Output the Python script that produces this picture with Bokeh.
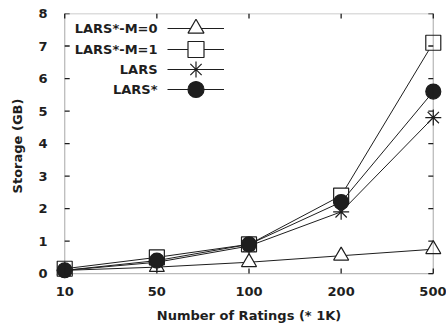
from bokeh.plotting import figure
from bokeh.models import (Range1d, FixedTicker, Legend, LegendItem, Label, BoxAnnotation)
from bokeh.core.properties import value
from bokeh.embed import file_html
from bokeh.resources import INLINE

categories = ["10", "50", "100", "200", "500"]
lars_m0 = [0.1, 0.2, 0.35, 0.55, 0.75]
lars_m1 = [0.15, 0.5, 0.9, 2.4, 7.1]
lars = [0.1, 0.35, 0.85, 1.9, 4.8]
lars_star = [0.1, 0.4, 0.9, 2.2, 5.6]
y_ticks = [0, 1, 2, 3, 4, 5, 6, 7, 8]

xs = list(range(len(categories)))
x_lo, x_hi = xs[0], xs[-1]
y_lo, y_hi = y_ticks[0], y_ticks[-1]
FONT = "DejaVu Sans"
INK = "#1e1e1e"
FS = "13px"

PADX = 0.1   # room so edge markers are not clipped
PADY = 0.15

p = figure(width=446, height=325, output_backend="svg", toolbar_location=None,
           x_range=Range1d(x_lo - PADX, x_hi + PADX), y_range=Range1d(y_lo - PADY, y_hi),
           min_border_left=55, min_border_right=4, min_border_top=13, min_border_bottom=47)
p.grid.visible = False
p.outline_line_color = None
p.background_fill_color = "white"

series = [
    ("LARS*-M=0", lars_m0, "triangle", "white", 15),
    ("LARS*-M=1", lars_m1, "square", "white", 15),
    ("LARS", lars, "asterisk", INK, 16),
    ("LARS*", lars_star, "circle", INK, 15),
]

renderers = []
for name, vals, marker, fill, size in series:
    ln = p.line(xs, vals, line_color=INK, line_width=1)
    sc = p.scatter(xs, vals, marker=marker, size=size, line_color=INK,
                   fill_color=fill, line_width=1.2)
    renderers.append((name, ln, sc))

# frame box at the data limits
p.add_layout(BoxAnnotation(left=x_lo, right=x_hi, bottom=y_lo, top=y_hi,
                           fill_alpha=0, line_color=INK, line_width=1.3, level="overlay"))

# inward ticks on all four sides
TX = 0.054
TY = 0.154
n = len(xs)
m = len(y_ticks)
p.segment(x0=xs, y0=[y_lo] * n, x1=xs, y1=[y_lo + TY] * n, line_color=INK, line_width=1.3)
p.segment(x0=xs, y0=[y_hi] * n, x1=xs, y1=[y_hi - TY] * n, line_color=INK, line_width=1.3)
p.segment(x0=[x_lo] * m, y0=y_ticks, x1=[x_lo + TX] * m, y1=y_ticks, line_color=INK, line_width=1.3)
p.segment(x0=[x_hi] * m, y0=y_ticks, x1=[x_hi - TX] * m, y1=y_ticks, line_color=INK, line_width=1.3)

def style_axis(ax):
    ax.axis_line_color = None
    ax.major_tick_line_color = None
    ax.minor_tick_line_color = None
    ax.major_label_text_font = FONT
    ax.major_label_text_font_style = "bold"
    ax.major_label_text_font_size = FS
    ax.major_label_text_color = INK
    ax.axis_label_text_font = FONT
    ax.axis_label_text_font_style = "bold"
    ax.axis_label_text_font_size = FS
    ax.axis_label_text_color = INK

xa = p.xaxis[0]
xa.ticker = FixedTicker(ticks=xs)
xa.major_label_overrides = {i: c for i, c in enumerate(categories)}
xa.axis_label = "Number of Ratings (* 1K)"
xa.major_label_standoff = 2
xa.axis_label_standoff = 9
style_axis(xa)

ya = p.yaxis[0]
ya.ticker = FixedTicker(ticks=y_ticks)
ya.axis_label = "Storage (GB)"
ya.major_label_standoff = 2
ya.axis_label_standoff = 10
style_axis(ya)

# legend: sample drawn by Legend, its name as a right-aligned label to the left
GW = 57
row_bottom = [230, 209, 189, 169]
for (name, ln, sc), ly in zip(renderers, row_bottom):
    lg = Legend(items=[LegendItem(label=value(" "), renderers=[ln, sc])], location=(112, ly),
                glyph_width=GW, glyph_height=40, padding=0, margin=0, spacing=0,
                label_standoff=0, label_width=0,
                border_line_alpha=0, background_fill_alpha=0,
                label_text_font=FONT, label_text_font_size=FS, label_text_alpha=0)
    p.add_layout(lg, "center")
    p.add_layout(Label(x=102, y=ly + 20, x_units="screen", y_units="screen", text=name,
                       text_align="right", text_baseline="middle", text_font=FONT,
                       text_font_style="bold", text_font_size=FS, text_color=INK))

open("out.html", "w").write(file_html(p, INLINE))
